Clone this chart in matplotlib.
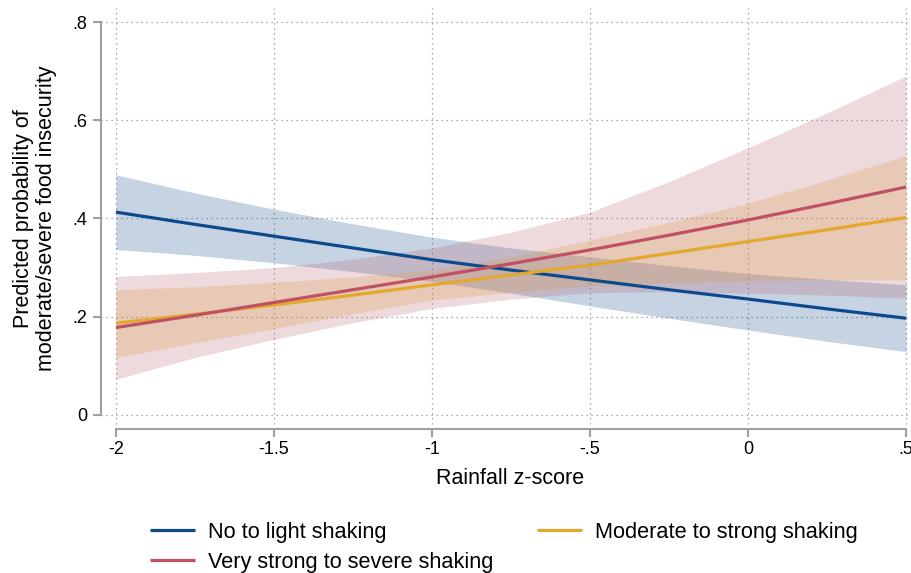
import matplotlib
matplotlib.use("Agg")
import matplotlib.pyplot as plt

plt.rcParams['font.family'] = ['Liberation Sans', 'DejaVu Sans']

x = [-2.0, -1.75, -1.5, -1.25, -1.0, -0.75, -0.5, -0.25, 0.0, 0.25, 0.5]

# No to light shaking
blue_mid = [0.413, 0.388, 0.364, 0.340, 0.316, 0.295, 0.275, 0.255, 0.236, 0.216, 0.197]
blue_lo = [0.337, 0.325, 0.310, 0.292, 0.272, 0.248, 0.222, 0.197, 0.173, 0.150, 0.129]
blue_hi = [0.489, 0.452, 0.419, 0.389, 0.362, 0.340, 0.322, 0.304, 0.288, 0.276, 0.265]

# Moderate to strong shaking
orange_mid = [0.187, 0.205, 0.224, 0.244, 0.265, 0.285, 0.305, 0.329, 0.353, 0.377, 0.402]
orange_lo = [0.117, 0.147, 0.176, 0.206, 0.234, 0.250, 0.263, 0.269, 0.273, 0.275, 0.275]
orange_hi = [0.255, 0.261, 0.270, 0.281, 0.295, 0.322, 0.356, 0.392, 0.431, 0.478, 0.528]

# Very strong to severe shaking
red_mid = [0.178, 0.203, 0.229, 0.255, 0.281, 0.308, 0.336, 0.366, 0.397, 0.430, 0.464]
red_lo = [0.073, 0.117, 0.154, 0.188, 0.217, 0.236, 0.249, 0.251, 0.248, 0.244, 0.238]
red_hi = [0.282, 0.290, 0.300, 0.317, 0.340, 0.372, 0.413, 0.475, 0.544, 0.615, 0.690]

labels = ["No to light shaking", "Moderate to strong shaking", "Very strong to severe shaking"]
colors = ["#0D4A8C", "#E3A82C", "#C05064"]
band_colors = ["#0D4A8C", "#E3A82C", "#B8606E"]

xticks = [-2, -1.5, -1, -0.5, 0, 0.5]
xticklabels = ["-2", "-1.5", "-1", "-.5", "0", ".5"]
yticks = [0, 0.2, 0.4, 0.6, 0.8]
yticklabels = ["0", ".2", ".4", ".6", ".8"]

W, H = 912, 573
fig = plt.figure(figsize=(W / 100, H / 100), dpi=100)
ax = fig.add_axes([101 / W, 1 - 429 / H, (912 - 101) / W, (429 - 8) / H])

ax.set_xlim(-2.0475, 0.519)
ax.set_ylim(-0.0285, 0.8285)

series = [
    (blue_mid, blue_lo, blue_hi, colors[0], band_colors[0]),
    (orange_mid, orange_lo, orange_hi, colors[1], band_colors[1]),
    (red_mid, red_lo, red_hi, colors[2], band_colors[2]),
]
for mid, lo, hi, c, bc in series:
    ax.fill_between(x, lo, hi, color=bc, alpha=0.24, linewidth=0, zorder=2)

handles = []
for (mid, lo, hi, c, bc), lab in zip(series, labels):
    h, = ax.plot(x, mid, color=c, lw=2.3, label=lab, zorder=3, solid_capstyle='butt')
    handles.append(h)

ax.set_xticks(xticks)
ax.set_xticklabels(xticklabels)
ax.set_yticks(yticks)
ax.set_yticklabels(yticklabels)

for s in ['top', 'right']:
    ax.spines[s].set_visible(False)
for s in ['left', 'bottom']:
    ax.spines[s].set_color('#A0A0A0')
    ax.spines[s].set_linewidth(1.5)
ax.spines['bottom'].set_bounds(-2, 0.5)
ax.spines['left'].set_bounds(0, 0.8)

ax.tick_params(axis='both', colors='#A0A0A0', width=1.5, length=6, labelcolor='black', labelsize=13)
ax.tick_params(axis='y', pad=4)
ax.tick_params(axis='x', pad=2.5)

ax.grid(True, color='#909090', linestyle=(0, (1, 3)), linewidth=0.9, zorder=1)
ax.set_axisbelow(True)

fig.text(510 / W, 1 - 478 / H, "Rainfall z-score", ha='center', va='center', fontsize=15.5)
fig.text(35 / W, 1 - 218.5 / H, "Predicted probability of\nmoderate/severe food insecurity",
         ha='center', va='center', rotation=90, fontsize=15.5, linespacing=1.1)

leg_handles = [handles[0], handles[2], handles[1]]
leg_labels = [labels[0], labels[2], labels[1]]
fig.legend(leg_handles, leg_labels, loc='upper left', bbox_to_anchor=(150 / W, 1 - 522 / H),
           ncol=2, frameon=False, fontsize=15.7, handlelength=2.05, handletextpad=0.6,
           columnspacing=2.02, labelspacing=0.4, borderpad=0, borderaxespad=0)

fig.savefig("out.png", dpi=100)
